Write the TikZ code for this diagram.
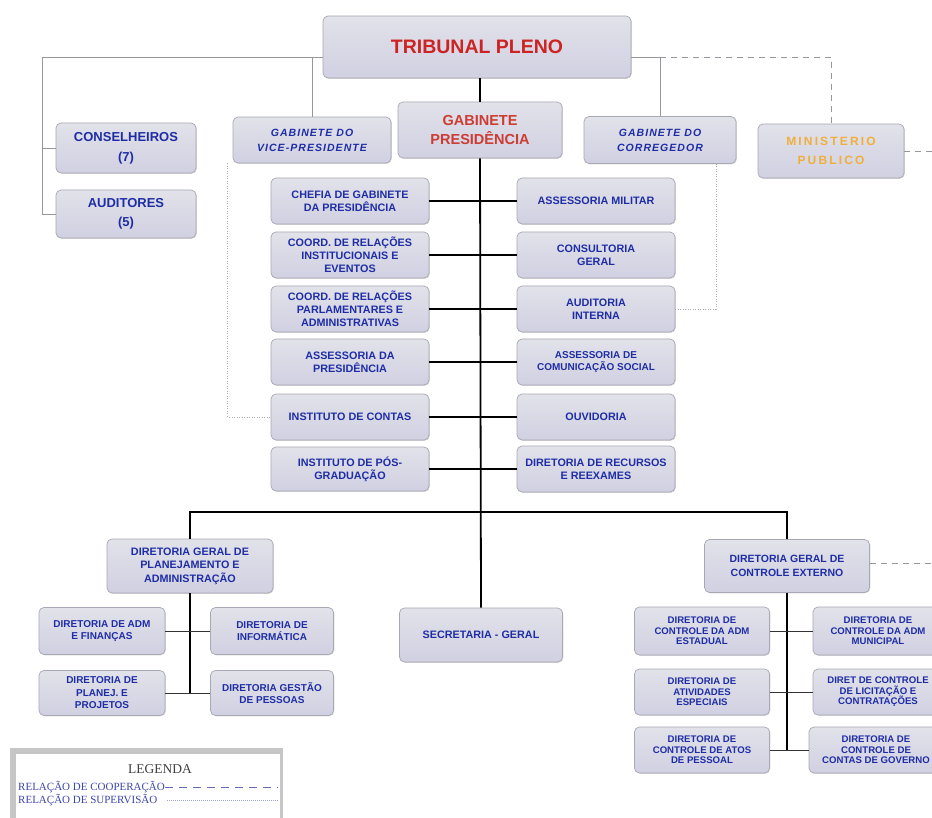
\documentclass[tikz,border=0pt]{standalone}
\usepackage{fontspec}
\setmainfont{Liberation Sans}
\newfontfamily\spacedfont[LetterSpace=10]{Liberation Sans}
\newfontfamily\mpfont[LetterSpace=18]{Liberation Sans}
\newfontfamily\legfont{Liberation Serif}
\usetikzlibrary{shadows}
\definecolor{tblue}{RGB}{30,45,165}
\definecolor{tred}{RGB}{205,35,35}
\definecolor{tredb}{RGB}{205,60,50}
\definecolor{torange}{RGB}{240,175,60}
\definecolor{boxbot}{RGB}{208,208,226}
\definecolor{boxtop}{RGB}{226,226,234}
\definecolor{boxline}{RGB}{168,168,180}
\definecolor{thingray}{RGB}{150,150,156}
\definecolor{legblue}{RGB}{60,70,170}
\newcommand\setfs[2]{\fontsize{#1}{#2}\selectfont}
\tikzset{
  box/.style={draw=boxline, line width=0.7pt, rounded corners=5pt,
    top color=boxtop, middle color=white, bottom color=boxbot,
    drop shadow={shadow xshift=0.8pt, shadow yshift=-0.8pt, opacity=0.3},
    align=center, inner sep=1pt, text=tblue},
  midtxt/.style={font=\bfseries\setfs{10.8}{13}},
  smalltxt/.style={font=\bfseries\setfs{10}{12.5}},
  cetxt/.style={font=\bfseries\setfs{9.6}{10.6}},
  gabtxt/.style={font=\spacedfont\bfseries\itshape\setfs{10.5}{15}},
  mainline/.style={black, line width=1.8pt},
  rowline/.style={black, line width=1.6pt},
  subline/.style={black, line width=1.2pt},
  subh/.style={black!80, line width=0.9pt},
  thinl/.style={thingray, line width=0.7pt},
  coop/.style={thingray, line width=0.8pt, dash pattern=on 6pt off 5pt},
  supv/.style={thingray!80, line width=0.8pt, dash pattern=on 1pt off 1.5pt},
}
\begin{document}
\begin{tikzpicture}[x=1pt,y=-1pt]
\useasboundingbox (0,0) rectangle (932,818);
\fill[white] (0,0) rectangle (932,818);
\clip (0,0) rectangle (932,818);

% top level
\node[box, minimum width=308, minimum height=62, text=tred, font=\bfseries\setfs{19.5}{22}] (tp) at (477,47) {TRIBUNAL PLENO};
\node[box, minimum width=164, minimum height=56, text=tredb, font=\bfseries\setfs{14.5}{19}] (gp) at (480,130) {GABINETE\\PRESIDÊNCIA};
\node[box, minimum width=158, minimum height=46, gabtxt] (vice) at (312,140) {GABINETE DO\\VICE-PRESIDENTE};
\node[box, minimum width=152, minimum height=47, gabtxt] (corr) at (660,140) {GABINETE DO\\CORREGEDOR};
\node[box, minimum width=146, minimum height=54, text=torange, font=\mpfont\bfseries\setfs{12}{19}] (mp) at (831,151) {MINISTERIO\\PUBLICO};
\node[box, minimum width=140, minimum height=50, font=\bfseries\setfs{13}{20}] (cons) at (126,148) {CONSELHEIROS\\(7)};
\node[box, minimum width=140, minimum height=48, font=\bfseries\setfs{13}{19}] (aud) at (126,214) {AUDITORES\\(5)};

% left column
\node[box, minimum width=158, minimum height=46, midtxt] (l1) at (350,201) {CHEFIA DE GABINETE\\DA PRESIDÊNCIA};
\node[box, minimum width=158, minimum height=46, midtxt] (l2) at (350,255) {COORD. DE RELAÇÕES\\INSTITUCIONAIS E\\EVENTOS};
\node[box, minimum width=158, minimum height=46, midtxt] (l3) at (350,309) {COORD. DE RELAÇÕES\\PARLAMENTARES E\\ADMINISTRATIVAS};
\node[box, minimum width=158, minimum height=46, midtxt] (l4) at (350,362) {ASSESSORIA DA\\PRESIDÊNCIA};
\node[box, minimum width=158, minimum height=46, midtxt] (l5) at (350,417) {INSTITUTO DE CONTAS};
\node[box, minimum width=158, minimum height=44, midtxt] (l6) at (350,469) {INSTITUTO DE PÓS-\\GRADUAÇÃO};
% right column
\node[box, minimum width=158, minimum height=46, midtxt] (r1) at (596,201) {ASSESSORIA MILITAR};
\node[box, minimum width=158, minimum height=46, midtxt] (r2) at (596,255) {CONSULTORIA\\GERAL};
\node[box, minimum width=158, minimum height=46, midtxt] (r3) at (596,309) {AUDITORIA\\INTERNA};
\node[box, minimum width=158, minimum height=46, font=\bfseries\setfs{10}{12.5}] (r4) at (596,362) {ASSESSORIA DE\\COMUNICAÇÃO SOCIAL};
\node[box, minimum width=158, minimum height=46, midtxt] (r5) at (596,417) {OUVIDORIA};
\node[box, minimum width=158, minimum height=46, midtxt] (r6) at (596,469) {DIRETORIA DE RECURSOS\\E REEXAMES};

% bottom
\node[box, minimum width=166, minimum height=54, font=\bfseries\setfs{10.8}{13.5}] (dgpa) at (190,566) {DIRETORIA GERAL DE\\PLANEJAMENTO E\\ADMINISTRAÇÃO};
\node[box, minimum width=126, minimum height=47, smalltxt] (adm) at (102,631) {DIRETORIA DE ADM\\E FINANÇAS};
\node[box, minimum width=123, minimum height=47, smalltxt] (info) at (272,631) {DIRETORIA DE\\INFORMÁTICA};
\node[box, minimum width=126, minimum height=45, smalltxt] (plan) at (102,693) {DIRETORIA DE\\PLANEJ. E\\PROJETOS};
\node[box, minimum width=123, minimum height=45, smalltxt] (gest) at (272,693) {DIRETORIA GESTÃO\\DE PESSOAS};
\node[box, minimum width=163, minimum height=54, midtxt] (sec) at (481,635) {SECRETARIA - GERAL};
\node[box, minimum width=165, minimum height=53, font=\bfseries\setfs{10.5}{13.5}] (dgce) at (787,566) {DIRETORIA GERAL DE\\CONTROLE EXTERNO};
\node[box, minimum width=135, minimum height=48, cetxt] (ce1) at (702,631) {DIRETORIA DE\\CONTROLE DA ADM\\ESTADUAL};
\node[box, minimum width=135, minimum height=46, cetxt] (ce2) at (702,692) {DIRETORIA DE\\ATIVIDADES\\ESPECIAIS};
\node[box, minimum width=135, minimum height=46, cetxt] (ce3) at (702,750) {DIRETORIA DE\\CONTROLE DE ATOS\\DE PESSOAL};
\node[box, minimum width=130, minimum height=48, cetxt] (cd1) at (878,631) {DIRETORIA DE\\CONTROLE DA ADM\\MUNICIPAL};
\node[box, minimum width=130, minimum height=46, cetxt] (cd2) at (878,692) {DIRET DE CONTROLE\\DE LICITAÇÃO E\\CONTRATAÇÕES};
\node[box, minimum width=134, minimum height=46, cetxt] (cd3) at (876,750) {DIRETORIA DE\\CONTROLE DE\\CONTAS DE GOVERNO};

% coordinates
\path (tp.west) ++(0,10) coordinate (tpL);
\path (tp.east) ++(0,10) coordinate (tpR);
\coordinate (lc) at (42,57);
\coordinate (bus) at (480,512);
\coordinate (mpR) at (945,151);
\coordinate (dgceR) at (945,563);

% top thin lines
\draw[thinl] (tpL) -- (lc) |- (aud.west);
\draw[thinl] (lc |- cons.west) -- (cons.west);
\draw[thinl] (vice.north |- tpL) -- (vice.north);
\draw[thinl] (tpR) -| (corr.north);
\draw[coop] (corr.north |- tpR) -| (mp.north);
\draw[coop] (mp.east) -- (mpR);
\draw[coop] (dgce.east |- dgceR) -- (dgceR);

% supervision
\draw[supv] ([xshift=56pt]corr.south) |- (r3.east);
\draw[supv] ([xshift=-5pt]vice.south west) |- (l5.west);

% main trunk
\draw[mainline] (gp.north |- tp.south) -- (gp.north);
\draw[mainline] (gp.south) -- (sec.north);
\foreach \i in {1,...,6} { \draw[rowline] (l\i.east) -- (r\i.west); }
\draw[mainline] (dgpa.north) |- (bus) -| (dgce.north);

% DGPA group
\draw[subline] (dgpa.south) -- (dgpa.south |- gest.west);
\draw[subh] (adm.east) -- (info.west);
\draw[subh] (plan.east) -- (gest.west);
% DGCE group
\draw[subline] (dgce.south) -- (dgce.south |- ce3.east);
\draw[subh] (ce1.east) -- (cd1.west);
\draw[subh] (ce2.east) -- (cd2.west);
\draw[subh] (ce3.east) -- (cd3.west);

% legend
\fill[gray!45] (10,748) rectangle (283,830);
\fill[white] (16,754) rectangle (280,830);
\node[text=black!75, font=\legfont\setfs{13.5}{15}] (legt) at (160,769) {LEGENDA};
\node[anchor=west, inner sep=0pt, text=legblue, font=\legfont\setfs{11}{12}] (lg1) at (18,787) {RELAÇÃO DE COOPERAÇÃO};
\node[anchor=west, inner sep=0pt, text=legblue, font=\legfont\setfs{11}{12}] (lg2) at (18,800) {RELAÇÃO DE SUPERVISÃO};
\coordinate (lg1e) at (278,787);
\coordinate (lg2e) at (278,800);
\draw[legblue!80, line width=1pt, dash pattern=on 8pt off 6pt] (lg1.east) -- (lg1e);
\draw[legblue!50, line width=0.8pt, dash pattern=on 1pt off 1pt] ([xshift=10pt]lg2.east) -- (lg2e);
\end{tikzpicture}
\end{document}
